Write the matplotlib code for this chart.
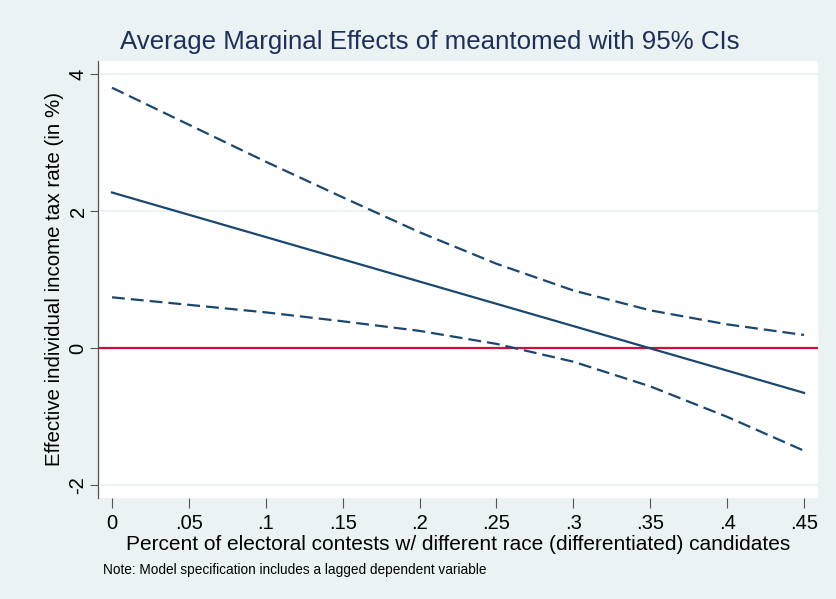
import matplotlib
matplotlib.use("Agg")
from matplotlib import pyplot as plt

# margins of meantomed
x_vals = [0, .05, .1, .15, .2, .25, .3, .35, .4, .45]
effect = [2.27, 1.945, 1.62, 1.295, 0.97, 0.645, 0.32, -0.005, -0.33, -0.655]
ci_upper = [3.80, 3.26, 2.72, 2.20, 1.69, 1.23, 0.84, 0.55, 0.345, 0.19]
ci_lower = [0.74, 0.63, 0.52, 0.39, 0.25, 0.06, -0.20, -0.56, -1.005, -1.50]

x_ticks = [0, .05, .1, .15, .2, .25, .3, .35, .4, .45]
x_ticklabels = ["0", ".05", ".1", ".15", ".2", ".25", ".3", ".35", ".4", ".45"]
y_ticks = [-2, 0, 2, 4]
y_ticklabels = ["-2", "0", "2", "4"]

navy = "#1a476f"
bg = "#eaf2f3"

plt.rcParams["font.family"] = ["Liberation Sans", "DejaVu Sans"]

fig = plt.figure(figsize=(8.36, 5.99), dpi=100, facecolor=bg)
ax = fig.add_axes([98 / 836, 1 - 498 / 599, 720 / 836, 437 / 599])
ax.set_facecolor("white")

# grid lines (stata style, horizontal only)
for yv in y_ticks:
    ax.axhline(yv, color=bg, linewidth=1.3, zorder=0)
ax.axhline(0, color="#d0103a", linewidth=1.6, zorder=2)

ax.plot(x_vals, effect, color=navy, linewidth=1.6, zorder=3)
ax.plot(x_vals, ci_upper, color=navy, linewidth=1.6, linestyle=(0, (5.8, 2.7)), zorder=3)
ax.plot(x_vals, ci_lower, color=navy, linewidth=1.6, linestyle=(0, (5.8, 2.7)), zorder=3)

ax.set_xlim(-0.0091, 0.4591)
ax.set_ylim(-2.19, 4.19)

ax.set_xticks(x_ticks)
ax.set_xticklabels(x_ticklabels, fontsize=14.5)
ax.set_yticks(y_ticks)
ax.set_yticklabels(y_ticklabels, fontsize=14.5, rotation=90, va="center")
ax.tick_params(axis="x", length=7, width=0.8, color="#555555", pad=4.5)
ax.tick_params(axis="y", length=6, width=0.8, color="#555555", pad=1.5)

for side in ["top", "right", "bottom"]:
    ax.spines[side].set_visible(False)
ax.spines["left"].set_color("#555555")
ax.spines["left"].set_linewidth(0.9)

ax.set_xlabel("Percent of electoral contests w/ different race (differentiated) candidates",
              fontsize=15, labelpad=1.5)
ax.set_ylabel("Effective individual income tax rate (in %)", fontsize=14.8, labelpad=3)

fig.text(430 / 836, 1 - 42 / 599, "Average Marginal Effects of meantomed with 95% CIs",
         fontsize=18.6, color="#1e2f5a", ha="center", va="center")
fig.text(103 / 836, 1 - 570 / 599, "Note: Model specification includes a lagged dependent variable",
         fontsize=9.8, ha="left", va="center")

fig.savefig("out.png", dpi=100, facecolor=bg)
